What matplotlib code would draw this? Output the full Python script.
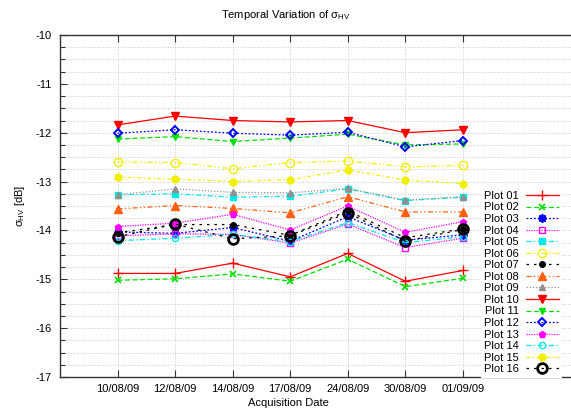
import matplotlib
matplotlib.use("Agg")
import matplotlib.pyplot as plt
from matplotlib.ticker import MultipleLocator

plt.rcParams['font.family'] = ['Liberation Sans', 'DejaVu Sans']
plt.rcParams['mathtext.fontset'] = 'custom'
plt.rcParams['mathtext.rm'] = 'Liberation Sans'
plt.rcParams['mathtext.it'] = 'Liberation Sans'
plt.rcParams['mathtext.default'] = 'regular'

dates = ["10/08/09", "12/08/09", "14/08/09", "17/08/09", "24/08/09", "30/08/09", "01/09/09"]
labels = ["Plot %02d" % i for i in range(1, 17)]

plot01 = [-14.88, -14.88, -14.67, -14.95, -14.47, -15.04, -14.82]
plot02 = [-15.02, -14.99, -14.89, -15.04, -14.59, -15.15, -14.98]
plot03 = [-14.03, -14.06, -13.94, -14.22, -13.72, -14.20, -14.09]
plot04 = [-14.11, -14.07, -14.08, -14.26, -13.87, -14.35, -14.16]
plot05 = [-13.27, -13.25, -13.32, -13.30, -13.15, -13.39, -13.32]
plot06 = [-12.60, -12.61, -12.74, -12.61, -12.58, -12.70, -12.67]
plot07 = [-14.05, -13.88, -13.88, -14.10, -13.60, -14.15, -13.97]
plot08 = [-13.56, -13.49, -13.55, -13.64, -13.31, -13.62, -13.62]
plot09 = [-13.27, -13.15, -13.22, -13.23, -13.14, -13.38, -13.31]
plot10 = [-11.84, -11.66, -11.75, -11.78, -11.75, -12.00, -11.94]
plot11 = [-12.13, -12.08, -12.18, -12.11, -12.03, -12.25, -12.23]
plot12 = [-12.01, -11.94, -12.01, -12.05, -11.99, -12.29, -12.16]
plot13 = [-13.92, -13.85, -13.67, -13.99, -13.50, -14.04, -13.82]
plot14 = [-14.21, -14.16, -14.08, -14.23, -13.84, -14.25, -14.13]
plot15 = [-12.91, -12.95, -13.00, -12.96, -12.76, -12.97, -13.04]
plot16 = [-14.13, -13.87, -14.17, -14.11, -13.64, -14.22, -13.98]

series = [plot01, plot02, plot03, plot04, plot05, plot06, plot07, plot08,
          plot09, plot10, plot11, plot12, plot13, plot14, plot15, plot16]

styles = [
    dict(color='#ff0000', ls='-', marker='+', ms=7, mew=1.0),
    dict(color='#00e000', ls=(0, (4, 2)), marker='x', ms=5, mew=1.2),
    dict(color='#0000ff', ls=(0, (1.5, 1.5)), marker=(8, 2, 0), ms=6, mew=1.3),
    dict(color='#ff00ff', ls=(0, (1, 1)), marker='s', ms=4.5, mfc='none', mew=1.0),
    dict(color='#00e8e8', ls=(0, (4, 2, 1, 2)), marker='s', ms=4.5),
    dict(color='#f0f000', ls=(0, (4, 2, 1, 2, 1, 2)), marker='o', ms=6, mfc='none', mew=1.0),
    dict(color='#000000', ls=(0, (2, 4)), marker='o', ms=4),
    dict(color='#ff6010', ls=(0, (4, 2, 1, 2, 1, 2)), marker='^', ms=5.5),
    dict(color='#909090', ls=(0, (1, 1.5)), marker='^', ms=5),
    dict(color='#ff0000', ls='-', marker='v', ms=6),
    dict(color='#00e000', ls=(0, (4, 2)), marker='v', ms=4.5),
    dict(color='#0000ff', ls=(0, (1.5, 1.5)), marker='D', ms=4.5, mfc='none', mew=1.4),
    dict(color='#ff00ff', ls=(0, (1, 1)), marker='p', ms=4.5),
    dict(color='#00e8e8', ls=(0, (4, 2, 1, 2)), marker='o', ms=4.5, mfc='none', mew=1.0),
    dict(color='#f0f000', ls=(0, (3, 2, 1, 2)), marker='o', ms=5),
    dict(color='#000000', ls=(0, (2, 4)), marker='o', ms=7, mfc='none', mew=2.0),
]

fig = plt.figure(figsize=(5.71, 4.12), dpi=100)
ax = fig.add_axes([60 / 571, 1 - 377 / 412, 1 - 60 / 571, (377 - 35) / 412])

xs = list(range(1, len(dates) + 1))
for vals, lab, st in zip(series, labels, styles):
    ax.plot(xs, vals, label=lab, lw=0.9, **st)

ax.set_xlim(0, 8.88)
ax.set_ylim(-17, -10)
ax.set_xticks(xs)
ax.set_xticklabels(dates)
ax.yaxis.set_major_locator(MultipleLocator(1))
ax.yaxis.set_minor_locator(MultipleLocator(0.25))
ax.set_yticks(list(range(-17, -9)))
ax.set_yticklabels([str(v) for v in range(-17, -9)])

ax.tick_params(axis='both', which='major', direction='in', length=5, width=0.8,
               labelsize=8, color='#333333')
ax.tick_params(axis='x', top=True, pad=5)
ax.tick_params(axis='y', pad=6)
ax.tick_params(axis='y', which='minor', direction='in', length=3.5, width=0.8, color='#333333')
ax.tick_params(axis='x', which='minor', bottom=False)

ax.grid(True, which='major', axis='x', color='#bbbbbb', ls=(0, (1, 2)), lw=0.6)
ax.grid(True, which='both', axis='y', color='#bbbbbb', ls=(0, (1, 2)), lw=0.6)
ax.set_axisbelow(True)

for s in ['left', 'bottom', 'top']:
    ax.spines[s].set_color('#333333')
    ax.spines[s].set_linewidth(1.0)
ax.spines['right'].set_visible(False)

fig.text(0.5, 1 - 15 / 412, r"Temporal Variation of $\sigma_{HV}$", ha='center', va='center', fontsize=8)
fig.text(0.506, 1 - 403 / 412, "Acquisition Date", ha='center', va='center', fontsize=8)
fig.text(20 / 571, 1 - 206 / 412, r"$\sigma_{HV}$ [dB]", ha='center', va='center',
         rotation=90, fontsize=8)

leg = ax.legend(loc='upper right', bbox_to_anchor=(568 / 571, 1 - 182 / 412),
                bbox_transform=fig.transFigure, fontsize=8, markerfirst=False,
                handlelength=3.0, handletextpad=0.6, labelspacing=0.14,
                borderpad=0.3, frameon=True, fancybox=False, framealpha=1.0)
leg.get_frame().set_edgecolor('none')
leg.get_frame().set_facecolor('white')

fig.savefig("out.png", dpi=100)
